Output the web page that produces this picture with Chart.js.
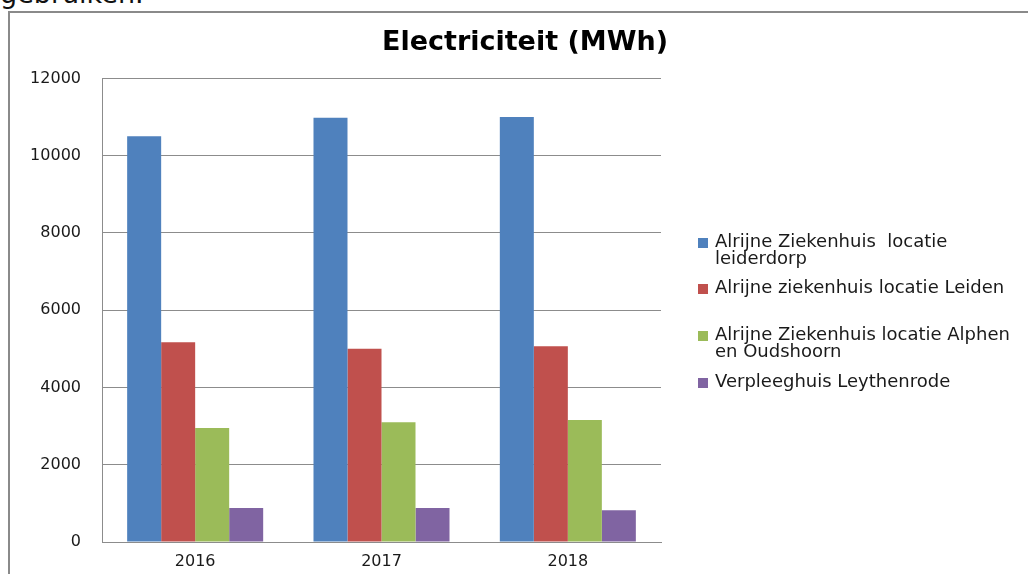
<!DOCTYPE html>
<html>
<head>
<meta charset="utf-8">
<script src="https://cdn.jsdelivr.net/npm/chart.js@4/dist/chart.umd.min.js"></script>
<style>
  html, body { margin: 0; padding: 0; background: #ffffff; width: 1028px; height: 574px; overflow: hidden; }
  #above { position: absolute; left: 0; top: -18px; font-family: "DejaVu Sans", sans-serif; font-size: 27px; line-height: 24px; color: #111; white-space: nowrap; }
  #frame { position: absolute; left: 8px; top: 11px; width: 1100px; height: 700px; border-left: 2px solid #8a8a8a; border-top: 2px solid #8a8a8a; }
  #wrap { position: absolute; left: 0; top: 0; width: 1028px; height: 574px; }
</style>
</head>
<body>
<div id="above">gebruiken.</div>
<div id="frame"></div>
<div id="wrap"><canvas id="c"></canvas></div>
<script>
const categories = ['2016', '2017', '2018'];
const seriesNames = [
  'Alrijne Ziekenhuis  locatie leiderdorp',
  'Alrijne ziekenhuis locatie Leiden',
  'Alrijne Ziekenhuis locatie Alphen en Oudshoorn',
  'Verpleeghuis Leythenrode'
];
const leiderdorp = [10500, 10980, 11000];
const leiden = [5170, 5000, 5070];
const alphen = [2950, 3100, 3160];
const leythenrode = [880, 880, 820];
const yTicks = [0, 2000, 4000, 6000, 8000, 10000, 12000];
const colors = ['#4F81BD', '#C0504D', '#9BBB59', '#8064A2'];
const titleText = 'Electriciteit (MWh)';

const seriesValues = [leiderdorp, leiden, alphen, leythenrode];

const sideLegend = {
  id: 'sideLegend',
  afterDraw(chart, args, opts) {
    const ctx = chart.ctx;
    ctx.save();
    ctx.font = opts.font;
    ctx.fillStyle = opts.color;
    ctx.textBaseline = 'alphabetic';
    ctx.textAlign = 'left';
    chart.data.datasets.forEach((ds, i) => {
      const words = ds.label.split(' ');
      const lines = [];
      let cur = '';
      words.forEach((w, k) => {
        const test = k === 0 ? w : cur + ' ' + w;
        if (cur !== '' && ctx.measureText(test).width > opts.maxWidth) {
          lines.push(cur);
          cur = w;
        } else {
          cur = test;
        }
      });
      lines.push(cur);
      const base = opts.baselines[i];
      ctx.fillStyle = ds.backgroundColor;
      ctx.fillRect(opts.boxX, base - opts.boxSize + 1, opts.boxSize, opts.boxSize);
      ctx.fillStyle = opts.color;
      lines.forEach((ln, j) => {
        ctx.fillText(ln, opts.textX, base + j * opts.lineHeight);
      });
    });
    ctx.restore();
  }
};

new Chart(document.getElementById('c'), {
  type: 'bar',
  data: {
    labels: categories,
    datasets: seriesNames.map((name, i) => ({
      label: name,
      data: seriesValues[i],
      backgroundColor: colors[i],
      borderWidth: 0,
      categoryPercentage: 0.73,
      barPercentage: 1.0
    }))
  },
  plugins: [sideLegend],
  options: {
    responsive: true,
    maintainAspectRatio: false,
    animation: false,
    devicePixelRatio: 1,
    layout: { padding: { left: 22, right: 0, top: 0, bottom: 0 } },
    plugins: {
      legend: { display: false },
      tooltip: { enabled: false },
      title: {
        display: true,
        text: titleText,
        color: '#000000',
        font: { family: '"DejaVu Sans", sans-serif', size: 27, weight: 'bold', lineHeight: 1.2 },
        padding: { top: 27, bottom: 19 }
      },
      sideLegend: {
        font: '18px "DejaVu Sans", sans-serif',
        color: '#1a1a1a',
        maxWidth: 305,
        boxX: 698,
        boxSize: 10,
        textX: 715,
        lineHeight: 17,
        baselines: [247, 293, 340, 387]
      }
    },
    scales: {
      x: {
        grid: { display: false, drawTicks: false },
        border: { display: true, color: '#8c8c8c', width: 1 },
        ticks: { color: '#1a1a1a', font: { family: '"DejaVu Sans", sans-serif', size: 16 }, padding: 10 },
        afterFit(scale) { scale.height = 32; }
      },
      y: {
        min: 0,
        max: 12000,
        afterBuildTicks(scale) { scale.ticks = yTicks.map(v => ({ value: v })); },
        grid: { color: '#8c8c8c', lineWidth: 1, drawTicks: false },
        border: { display: true, color: '#8c8c8c', width: 1 },
        ticks: {
          color: '#1a1a1a',
          font: { family: '"DejaVu Sans", sans-serif', size: 16 },
          padding: 21,
          callback: (v) => String(v)
        },
        afterFit(scale) { scale.width = 80; }
      },
      legendSpace: {
        type: 'linear',
        axis: 'y',
        position: 'right',
        display: true,
        grid: { display: false, drawOnChartArea: false, drawTicks: false },
        border: { display: false },
        ticks: { display: false },
        afterFit(scale) { scale.width = 367; }
      }
    }
  }
});
</script>
</body>
</html>
